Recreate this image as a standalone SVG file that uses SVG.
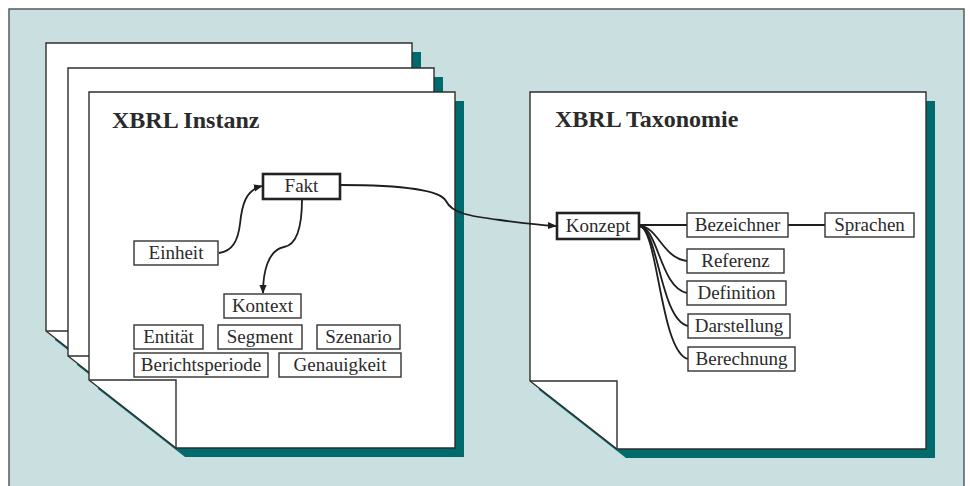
<svg xmlns="http://www.w3.org/2000/svg" width="970" height="486" viewBox="0 0 970 486">
  <defs>
    <style>
      .page { fill: #ffffff; stroke: #2e2e2e; stroke-width: 1.4; }
      .shadow { fill: #006b6d; }
      .fold { fill: none; stroke: #2e2e2e; stroke-width: 1.4; }
      .box { fill: #ffffff; stroke: #333333; stroke-width: 1.4; }
      .box.main { stroke: #222222; stroke-width: 2.6; }
      .lbl { font-family: "Liberation Serif", "Times New Roman", serif; font-size: 19px; fill: #2a2a2a; text-anchor: middle; }
      .title { font-family: "Liberation Serif", "Times New Roman", serif; font-size: 24px; font-weight: bold; fill: #2a2a2a; }
      .link { fill: none; stroke: #1e1e1e; stroke-width: 1.8; }
    </style>
    <!-- dog-eared sheet outlines -->
    <path id="sheetL" d="M0,0 H366 V356 H87 L0,288 Z"/>
    <path id="foldL" d="M0,288 H87 V356"/>
    <path id="sheetR" d="M0,0 H396 V357 H87 L0,289 Z"/>
    <path id="foldR" d="M0,289 H87 V357"/>
    <marker id="arrow" viewBox="0 0 10 10" refX="9" refY="5" markerWidth="9" markerHeight="9" markerUnits="userSpaceOnUse" orient="auto">
      <path d="M0,1 L10,5 L0,9 Z" fill="#1e1e1e"/>
    </marker>
  </defs>

  <!-- panel background -->
  <rect x="9" y="9" width="955" height="490" fill="#cadfe0" stroke="#5a5a5a" stroke-width="1.5"/>

  <!-- stacked instance sheets -->
  <g id="sheet-back">
    <use href="#sheetL" class="shadow" transform="translate(55,52)"/>
    <use href="#sheetL" class="page" transform="translate(46,43)"/>
    <use href="#foldL" class="fold" transform="translate(46,43)"/>
  </g>
  <g id="sheet-middle">
    <use href="#sheetL" class="shadow" transform="translate(77,77)"/>
    <use href="#sheetL" class="page" transform="translate(68,68)"/>
    <use href="#foldL" class="fold" transform="translate(68,68)"/>
  </g>
  <g id="sheet-instanz">
    <use href="#sheetL" class="shadow" transform="translate(98,101)"/>
    <use href="#sheetL" class="page" transform="translate(89,92)"/>
    <use href="#foldL" class="fold" transform="translate(89,92)"/>
    <text class="title" x="112" y="128">XBRL Instanz</text>
  </g>

  <!-- taxonomy sheet -->
  <g id="sheet-taxonomie">
    <use href="#sheetR" class="shadow" transform="translate(539,101)"/>
    <use href="#sheetR" class="page" transform="translate(530,92)"/>
    <use href="#foldR" class="fold" transform="translate(530,92)"/>
    <text class="title" x="555" y="127">XBRL Taxonomie</text>
  </g>

  <!-- connectors -->
  <g id="connectors">
    <path class="link" marker-end="url(#arrow)" d="M219,253 C233,251 238,240 240,224 C242,204 246,190 262,186"/>
    <path class="link" marker-end="url(#arrow)" d="M302,199 C302,228 296,245 284,247 C268,250 263,272 263,293"/>
    <path class="link" marker-end="url(#arrow)" d="M340,185 C400,185 440,190 446,201 C452,213 468,216 500,220 C522,223 540,225 556,226"/>
    <path class="link" d="M639,225 H687"/>
    <path class="link" d="M788,225 H825"/>
    <path class="link" d="M639,226 C658,226 662,258 687,261"/>
    <path class="link" d="M639,226 C658,226 660,288 687,293"/>
    <path class="link" d="M639,226 C658,226 660,320 688,326"/>
    <path class="link" d="M639,226 C658,226 660,352 688,359"/>
  </g>

  <!-- instance nodes -->
  <g id="fakt">
    <rect class="box main" x="263" y="174" width="77" height="25"/>
    <text class="lbl" x="301.5" y="192">Fakt</text>
  </g>
  <g id="einheit">
    <rect class="box" x="134" y="241" width="84" height="24"/>
    <text class="lbl" x="176" y="259">Einheit</text>
  </g>
  <g id="kontext">
    <rect class="box" x="224" y="294" width="77" height="24"/>
    <text class="lbl" x="262.5" y="312">Kontext</text>
  </g>
  <g id="entitaet">
    <rect class="box" x="134" y="325" width="69" height="24"/>
    <text class="lbl" x="168.5" y="343">Entität</text>
  </g>
  <g id="segment">
    <rect class="box" x="218" y="325" width="84" height="24"/>
    <text class="lbl" x="260" y="343">Segment</text>
  </g>
  <g id="szenario">
    <rect class="box" x="317" y="325" width="83" height="24"/>
    <text class="lbl" x="358.5" y="343">Szenario</text>
  </g>
  <g id="berichtsperiode">
    <rect class="box" x="134" y="353" width="134" height="24"/>
    <text class="lbl" x="201" y="371">Berichtsperiode</text>
  </g>
  <g id="genauigkeit">
    <rect class="box" x="279" y="353" width="122" height="24"/>
    <text class="lbl" x="340" y="371">Genauigkeit</text>
  </g>

  <!-- taxonomy nodes -->
  <g id="konzept">
    <rect class="box main" x="557" y="213" width="82" height="26"/>
    <text class="lbl" x="598" y="232">Konzept</text>
  </g>
  <g id="bezeichner">
    <rect class="box" x="687" y="213" width="101" height="24"/>
    <text class="lbl" x="737.5" y="231">Bezeichner</text>
  </g>
  <g id="sprachen">
    <rect class="box" x="825" y="213" width="89" height="24"/>
    <text class="lbl" x="869.5" y="231">Sprachen</text>
  </g>
  <g id="referenz">
    <rect class="box" x="687" y="249" width="97" height="24"/>
    <text class="lbl" x="735.5" y="267">Referenz</text>
  </g>
  <g id="definition">
    <rect class="box" x="687" y="281" width="99" height="24"/>
    <text class="lbl" x="736.5" y="299">Definition</text>
  </g>
  <g id="darstellung">
    <rect class="box" x="688" y="314" width="102" height="24"/>
    <text class="lbl" x="739" y="332">Darstellung</text>
  </g>
  <g id="berechnung">
    <rect class="box" x="688" y="347" width="107" height="24"/>
    <text class="lbl" x="741.5" y="365">Berechnung</text>
  </g>
</svg>
